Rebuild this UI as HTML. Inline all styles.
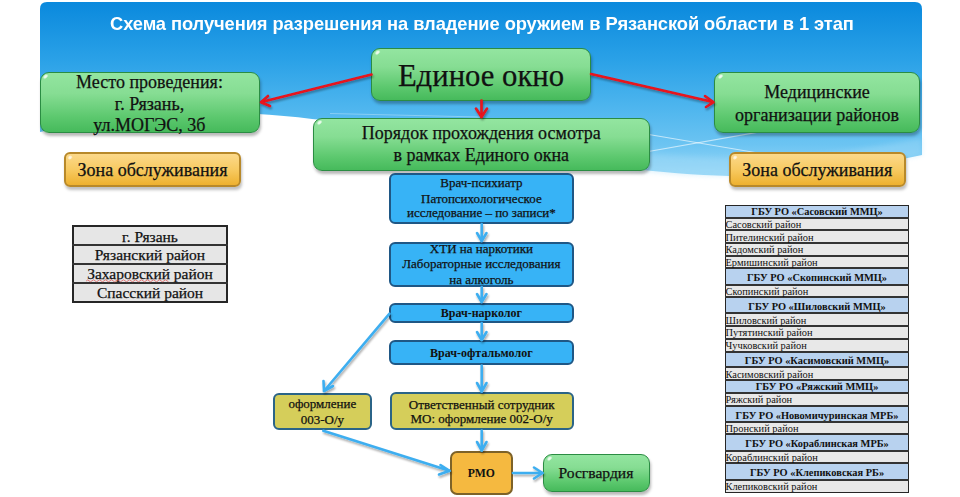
<!DOCTYPE html>
<html><head><meta charset="utf-8">
<style>
html,body{margin:0;padding:0;width:960px;height:497px;overflow:hidden;background:#fff;}
body{position:relative;}
.bg,.fg{position:absolute;left:0;top:0;}
.fg{z-index:5;}
.t{position:absolute;white-space:nowrap;z-index:10;-webkit-text-stroke:0.25px currentColor;}
.box{position:absolute;box-sizing:border-box;z-index:3;}
.green{background:linear-gradient(#93e5a0 0%,#86dd93 35%,#5cc86e 75%,#46ba5b 100%);border:1.8px solid #2b8c43;border-radius:9px;box-shadow:1px 3px 3px rgba(0,0,0,0.28);}
.green::before{content:"";position:absolute;left:2.5px;top:2px;width:5px;height:3px;border-radius:50%;background:rgba(255,255,255,0.85);transform:rotate(-40deg);filter:blur(0.5px);}
.yellow{background:linear-gradient(#fcd98a 0%,#f7ca62 50%,#eeb12f 100%);border:2px solid #b8892a;border-radius:6px;box-shadow:1px 3px 3px rgba(0,0,0,0.25);}
.yellow::before{content:"";position:absolute;left:2px;top:2px;width:4px;height:3px;border-radius:50%;background:rgba(255,255,255,0.8);transform:rotate(-40deg);filter:blur(0.5px);}
.blue{background:#37b3f6;border:2px solid #1f5785;border-radius:6px;}
.olive{background:#d5ce5a;border:2px solid #2b6487;border-radius:6px;}
.orange{background:#f5b940;border:2px solid #7d6228;border-radius:7px;}
.lt{position:absolute;box-sizing:border-box;background:#e6e6e6;border:2px solid #262626;z-index:3;}
.rt{position:absolute;box-sizing:border-box;border:1.8px solid #262626;z-index:4;}
.rr{position:absolute;z-index:3;}
.hl{position:absolute;background:#333;z-index:4;}
</style></head><body>
<svg class="bg" width="960" height="497" viewBox="0 0 960 497">
<defs>
<linearGradient id="bluegrad" x1="0" y1="2" x2="0" y2="176" gradientUnits="userSpaceOnUse">
<stop offset="0" stop-color="#0a89dd"/>
<stop offset="0.33" stop-color="#2aa1e7"/>
<stop offset="0.6" stop-color="#4db5ee"/>
<stop offset="0.82" stop-color="#6cc4f2"/>
<stop offset="1" stop-color="#9ad8f7"/>
</linearGradient>
<linearGradient id="lightband" x1="0" y1="0" x2="0" y2="1">
<stop offset="0" stop-color="#a8dcf8" stop-opacity="0"/>
<stop offset="1" stop-color="#a8dcf8" stop-opacity="0.9"/>
</linearGradient>
<filter id="soft" x="-5%" y="-50%" width="110%" height="200%"><feGaussianBlur stdDeviation="2.5"/></filter>
</defs>
<path d="M40,9 Q40,2 47,2 L915,2 Q922,2 922,9 L922,155 C860,168 790,178 729,176 C600,174 420,130 312,119 C240,110 150,108 40,132 Z" fill="url(#bluegrad)"/>
<path d="M922,138 C860,150 790,160 729,158 C640,156 560,146 470,134 L470,140 C560,160 640,176 729,176 C790,178 860,168 922,155 Z" fill="#a6ddf8" opacity="0.4" filter="url(#soft)"/>
<line x1="640" y1="133" x2="770" y2="155" stroke="#ffffff" stroke-opacity="0.6" stroke-width="1.2"/>
<line x1="640" y1="153" x2="770" y2="130" stroke="#ffffff" stroke-opacity="0.6" stroke-width="1.2"/>
<path d="M330,113.5 C380,114.5 430,116 480,117" stroke="#ffffff" stroke-opacity="0.3" stroke-width="1.2" fill="none"/>
</svg>
<div class="t" style="left:110px;width:760px;top:11.87px;font-size:19px;line-height:24.7px;font-family:'Liberation Sans', sans-serif;font-weight:bold;color:#fff;text-align:left;letter-spacing:-0.1px;-webkit-text-stroke:0;transform:scaleX(0.965);transform-origin:0 0;-webkit-text-stroke:0;">Схема получения разрешения на владение оружием в Рязанской области в 1 этап</div>
<div class="box green" style="left:39.5px;top:72px;width:220.5px;height:61px"></div>
<div class="box green" style="left:371px;top:47.5px;width:220px;height:53px"></div>
<div class="box green" style="left:714px;top:72px;width:206px;height:61px"></div>
<div class="box green" style="left:313px;top:117.5px;width:336.5px;height:53px"></div>
<div class="box yellow" style="left:64px;top:152.2px;width:177px;height:34.5px"></div>
<div class="box yellow" style="left:729px;top:152px;width:176.5px;height:34.5px"></div>
<div class="box blue" style="left:389.2px;top:172.7px;width:184.4px;height:51px"></div>
<div class="box blue" style="left:389.2px;top:241.9px;width:184.4px;height:44.8px"></div>
<div class="box blue" style="left:389.2px;top:302.5px;width:184.4px;height:20.3px"></div>
<div class="box blue" style="left:389.2px;top:340.3px;width:184.4px;height:24.7px"></div>
<div class="box olive" style="left:273px;top:392.5px;width:98.7px;height:37.5px"></div>
<div class="box olive" style="left:389.8px;top:392px;width:183.8px;height:38px"></div>
<div class="box orange" style="left:450px;top:451.3px;width:62.5px;height:43.7px"></div>
<div class="box green" style="left:543.3px;top:454.3px;width:106.7px;height:37.5px"></div>
<div class="t" style="left:40px;width:219px;top:70.78px;font-size:18px;line-height:23.4px;font-family:'Liberation Serif', serif;font-weight:normal;color:#111;text-align:center;letter-spacing:0px;">Место проведения:</div>
<div class="t" style="left:40px;width:219px;top:92.88px;font-size:18px;line-height:23.4px;font-family:'Liberation Serif', serif;font-weight:normal;color:#111;text-align:center;letter-spacing:0px;">г. Рязань,</div>
<div class="t" style="left:39.8px;width:219px;top:113.88px;font-size:18px;line-height:23.4px;font-family:'Liberation Serif', serif;font-weight:normal;color:#111;text-align:center;letter-spacing:0px;">ул.МОГЭС, 3б</div>
<div class="t" style="left:371px;width:220px;top:56.83px;font-size:30.7px;line-height:39.91px;font-family:'Liberation Serif', serif;font-weight:normal;color:#111;text-align:center;letter-spacing:0px;">Единое окно</div>
<div class="t" style="left:714px;width:206px;top:81.47px;font-size:18px;line-height:23.4px;font-family:'Liberation Serif', serif;font-weight:normal;color:#111;text-align:center;letter-spacing:0px;">Медицинские</div>
<div class="t" style="left:714px;width:206px;top:103.58px;font-size:18px;line-height:23.4px;font-family:'Liberation Serif', serif;font-weight:normal;color:#111;text-align:center;letter-spacing:0px;">организации районов</div>
<div class="t" style="left:313px;width:336.5px;top:122.38px;font-size:18px;line-height:23.4px;font-family:'Liberation Serif', serif;font-weight:normal;color:#111;text-align:center;letter-spacing:0px;">Порядок прохождения осмотра</div>
<div class="t" style="left:313px;width:336.5px;top:143.97px;font-size:18px;line-height:23.4px;font-family:'Liberation Serif', serif;font-weight:normal;color:#111;text-align:center;letter-spacing:0px;">в рамках Единого окна</div>
<div class="t" style="left:64px;width:177px;top:158.88px;font-size:18px;line-height:23.4px;font-family:'Liberation Serif', serif;font-weight:normal;color:#111;text-align:center;letter-spacing:0px;">Зона обслуживания</div>
<div class="t" style="left:729px;width:176.5px;top:158.88px;font-size:18px;line-height:23.4px;font-family:'Liberation Serif', serif;font-weight:normal;color:#111;text-align:center;letter-spacing:0px;">Зона обслуживания</div>
<div class="t" style="left:389.2px;width:184.4px;top:175.21px;font-size:13px;line-height:16.9px;font-family:'Liberation Serif', serif;font-weight:normal;color:#111;text-align:center;letter-spacing:0px;">Врач-психиатр</div>
<div class="t" style="left:389.2px;width:184.4px;top:190.51px;font-size:13px;line-height:16.9px;font-family:'Liberation Serif', serif;font-weight:normal;color:#111;text-align:center;letter-spacing:0px;">Патопсихологическое</div>
<div class="t" style="left:389.2px;width:184.4px;top:205.31px;font-size:13px;line-height:16.9px;font-family:'Liberation Serif', serif;font-weight:normal;color:#111;text-align:center;letter-spacing:0px;">исследование – по записи*</div>
<div class="t" style="left:389.2px;width:184.4px;top:241.11px;font-size:13px;line-height:16.9px;font-family:'Liberation Serif', serif;font-weight:normal;color:#111;text-align:center;letter-spacing:0px;">ХТИ на наркотики</div>
<div class="t" style="left:389.2px;width:184.4px;top:256.31px;font-size:13px;line-height:16.9px;font-family:'Liberation Serif', serif;font-weight:normal;color:#111;text-align:center;letter-spacing:0px;">Лабораторные исследования</div>
<div class="t" style="left:389.2px;width:184.4px;top:271.71px;font-size:13px;line-height:16.9px;font-family:'Liberation Serif', serif;font-weight:normal;color:#111;text-align:center;letter-spacing:0px;">на алкоголь</div>
<div class="t" style="left:389.2px;width:184.4px;top:306.00px;font-size:12px;line-height:15.6px;font-family:'Liberation Serif', serif;font-weight:bold;color:#111;text-align:center;letter-spacing:0px;-webkit-text-stroke:0;">Врач-нарколог</div>
<div class="t" style="left:389.2px;width:184.4px;top:346.00px;font-size:12px;line-height:15.6px;font-family:'Liberation Serif', serif;font-weight:bold;color:#111;text-align:center;letter-spacing:0px;-webkit-text-stroke:0;">Врач-офтальмолог</div>
<div class="t" style="left:273px;width:98.7px;top:396.31px;font-size:13px;line-height:16.9px;font-family:'Liberation Serif', serif;font-weight:normal;color:#111;text-align:center;letter-spacing:0px;">оформление</div>
<div class="t" style="left:273px;width:98.7px;top:412.01px;font-size:13px;line-height:16.9px;font-family:'Liberation Serif', serif;font-weight:normal;color:#111;text-align:center;letter-spacing:0px;">003-О/у</div>
<div class="t" style="left:389.8px;width:183.8px;top:396.71px;font-size:13px;line-height:16.9px;font-family:'Liberation Serif', serif;font-weight:normal;color:#111;text-align:center;letter-spacing:0px;">Ответственный сотрудник</div>
<div class="t" style="left:389.8px;width:183.8px;top:411.01px;font-size:13px;line-height:16.9px;font-family:'Liberation Serif', serif;font-weight:normal;color:#111;text-align:center;letter-spacing:0px;">МО: оформление 002-О/у</div>
<div class="t" style="left:450px;width:62.5px;top:465.90px;font-size:11.7px;line-height:15.21px;font-family:'Liberation Serif', serif;font-weight:bold;color:#111;text-align:center;letter-spacing:0px;-webkit-text-stroke:0;">РМО</div>
<div class="t" style="left:542.6px;width:106.7px;top:463.04px;font-size:15.6px;line-height:20.28px;font-family:'Liberation Serif', serif;font-weight:normal;color:#111;text-align:center;letter-spacing:0px;">Росгвардия</div>
<div class="lt" style="left:72px;top:225px;width:156px;height:78px"></div>
<div class="t" style="left:72px;width:156px;top:226.64px;font-size:15.5px;line-height:20.15px;font-family:'Liberation Serif', serif;font-weight:normal;color:#111;text-align:center;letter-spacing:0px;">г. Рязань</div>
<div class="hl" style="left:72px;top:244px;width:156px;height:2px"></div>
<div class="t" style="left:72px;width:156px;top:245.24px;font-size:15.5px;line-height:20.15px;font-family:'Liberation Serif', serif;font-weight:normal;color:#111;text-align:center;letter-spacing:0px;">Рязанский район</div>
<div class="hl" style="left:72px;top:263px;width:156px;height:2px"></div>
<div class="t" style="left:72px;width:156px;top:264.14px;font-size:15.5px;line-height:20.15px;font-family:'Liberation Serif', serif;font-weight:normal;color:#111;text-align:center;letter-spacing:0px;">Захаровский район</div>
<div class="hl" style="left:72px;top:282px;width:156px;height:2px"></div>
<div class="t" style="left:72px;width:156px;top:283.34px;font-size:15.5px;line-height:20.15px;font-family:'Liberation Serif', serif;font-weight:normal;color:#111;text-align:center;letter-spacing:0px;">Спасский район</div>
<svg style="position:absolute;left:86px;top:279px;z-index:11" width="86" height="4"><path d="M0,2.5 L1.5,0.8 L4.5,2.8 L7.5,0.8 L10.5,2.8 L13.5,0.8 L16.5,2.8 L19.5,0.8 L22.5,2.8 L25.5,0.8 L28.5,2.8 L31.5,0.8 L34.5,2.8 L37.5,0.8 L40.5,2.8 L43.5,0.8 L46.5,2.8 L49.5,0.8 L52.5,2.8 L55.5,0.8 L58.5,2.8 L61.5,0.8 L64.5,2.8 L67.5,0.8 L70.5,2.8 L73.5,0.8 L76.5,2.8 L79.5,0.8 L82.5,2.8" stroke="#e04040" stroke-width="0.8" fill="none" opacity="0.8"/></svg>
<div class="rt" style="left:725.3px;top:205px;width:183.5px;height:287.6px"></div>
<div class="rr" style="left:725.3px;top:205px;width:183.5px;height:12.50px;background:#b8d2ef"></div>
<div class="rr" style="left:725.3px;top:217.5px;width:183.5px;height:12.90px;background:#e8e8e8"></div>
<div class="rr" style="left:725.3px;top:230.4px;width:183.5px;height:12.70px;background:#e8e8e8"></div>
<div class="rr" style="left:725.3px;top:243.1px;width:183.5px;height:12.70px;background:#e8e8e8"></div>
<div class="rr" style="left:725.3px;top:255.8px;width:183.5px;height:12.50px;background:#e8e8e8"></div>
<div class="rr" style="left:725.3px;top:268.3px;width:183.5px;height:16.40px;background:#b8d2ef"></div>
<div class="rr" style="left:725.3px;top:284.7px;width:183.5px;height:12.60px;background:#e8e8e8"></div>
<div class="rr" style="left:725.3px;top:297.3px;width:183.5px;height:15.90px;background:#b8d2ef"></div>
<div class="rr" style="left:725.3px;top:313.2px;width:183.5px;height:12.80px;background:#e8e8e8"></div>
<div class="rr" style="left:725.3px;top:326px;width:183.5px;height:12.60px;background:#e8e8e8"></div>
<div class="rr" style="left:725.3px;top:338.6px;width:183.5px;height:13.30px;background:#e8e8e8"></div>
<div class="rr" style="left:725.3px;top:351.9px;width:183.5px;height:15.50px;background:#b8d2ef"></div>
<div class="rr" style="left:725.3px;top:367.4px;width:183.5px;height:12.70px;background:#e8e8e8"></div>
<div class="rr" style="left:725.3px;top:380.1px;width:183.5px;height:12.90px;background:#b8d2ef"></div>
<div class="rr" style="left:725.3px;top:393px;width:183.5px;height:12.80px;background:#e8e8e8"></div>
<div class="rr" style="left:725.3px;top:405.8px;width:183.5px;height:16.60px;background:#b8d2ef"></div>
<div class="rr" style="left:725.3px;top:422.4px;width:183.5px;height:12.00px;background:#e8e8e8"></div>
<div class="rr" style="left:725.3px;top:434.4px;width:183.5px;height:16.80px;background:#b8d2ef"></div>
<div class="rr" style="left:725.3px;top:451.2px;width:183.5px;height:12.10px;background:#e8e8e8"></div>
<div class="rr" style="left:725.3px;top:463.3px;width:183.5px;height:16.60px;background:#b8d2ef"></div>
<div class="rr" style="left:725.3px;top:479.9px;width:183.5px;height:12.70px;background:#e8e8e8"></div>
<div class="hl" style="left:725.3px;top:217px;width:183.5px;height:2px"></div>
<div class="hl" style="left:725.3px;top:229px;width:183.5px;height:2px"></div>
<div class="hl" style="left:725.3px;top:242px;width:183.5px;height:2px"></div>
<div class="hl" style="left:725.3px;top:255px;width:183.5px;height:2px"></div>
<div class="hl" style="left:725.3px;top:267px;width:183.5px;height:2px"></div>
<div class="hl" style="left:725.3px;top:284px;width:183.5px;height:2px"></div>
<div class="hl" style="left:725.3px;top:296px;width:183.5px;height:2px"></div>
<div class="hl" style="left:725.3px;top:312px;width:183.5px;height:2px"></div>
<div class="hl" style="left:725.3px;top:325px;width:183.5px;height:2px"></div>
<div class="hl" style="left:725.3px;top:338px;width:183.5px;height:2px"></div>
<div class="hl" style="left:725.3px;top:351px;width:183.5px;height:2px"></div>
<div class="hl" style="left:725.3px;top:366px;width:183.5px;height:2px"></div>
<div class="hl" style="left:725.3px;top:379px;width:183.5px;height:2px"></div>
<div class="hl" style="left:725.3px;top:392px;width:183.5px;height:2px"></div>
<div class="hl" style="left:725.3px;top:405px;width:183.5px;height:2px"></div>
<div class="hl" style="left:725.3px;top:421px;width:183.5px;height:2px"></div>
<div class="hl" style="left:725.3px;top:433px;width:183.5px;height:2px"></div>
<div class="hl" style="left:725.3px;top:450px;width:183.5px;height:2px"></div>
<div class="hl" style="left:725.3px;top:462px;width:183.5px;height:2px"></div>
<div class="hl" style="left:725.3px;top:479px;width:183.5px;height:2px"></div>
<div class="t" style="left:725.3px;width:183.5px;top:205.13px;font-size:10.4px;line-height:13.52px;font-family:'Liberation Serif', serif;font-weight:bold;color:#111;text-align:center;letter-spacing:0px;-webkit-text-stroke:0;">ГБУ РО «Сасовский ММЦ»</div>
<div class="t" style="left:725.5px;width:183.5px;top:217.93px;font-size:10.4px;line-height:13.52px;font-family:'Liberation Serif', serif;font-weight:normal;color:#111;text-align:left;letter-spacing:0px;-webkit-text-stroke:0;">Сасовский район</div>
<div class="t" style="left:725.5px;width:183.5px;top:230.73px;font-size:10.4px;line-height:13.52px;font-family:'Liberation Serif', serif;font-weight:normal;color:#111;text-align:left;letter-spacing:0px;-webkit-text-stroke:0;">Пителинский район</div>
<div class="t" style="left:725.5px;width:183.5px;top:243.43px;font-size:10.4px;line-height:13.52px;font-family:'Liberation Serif', serif;font-weight:normal;color:#111;text-align:left;letter-spacing:0px;-webkit-text-stroke:0;">Кадомский район</div>
<div class="t" style="left:725.5px;width:183.5px;top:256.03px;font-size:10.4px;line-height:13.52px;font-family:'Liberation Serif', serif;font-weight:normal;color:#111;text-align:left;letter-spacing:0px;-webkit-text-stroke:0;">Ермишинский район</div>
<div class="t" style="left:725.3px;width:183.5px;top:271.18px;font-size:10.4px;line-height:13.52px;font-family:'Liberation Serif', serif;font-weight:bold;color:#111;text-align:center;letter-spacing:0px;-webkit-text-stroke:0;">ГБУ РО «Скопинский ММЦ»</div>
<div class="t" style="left:725.5px;width:183.5px;top:284.98px;font-size:10.4px;line-height:13.52px;font-family:'Liberation Serif', serif;font-weight:normal;color:#111;text-align:left;letter-spacing:0px;-webkit-text-stroke:0;">Скопинский район</div>
<div class="t" style="left:725.3px;width:183.5px;top:299.93px;font-size:10.4px;line-height:13.52px;font-family:'Liberation Serif', serif;font-weight:bold;color:#111;text-align:center;letter-spacing:0px;-webkit-text-stroke:0;">ГБУ РО «Шиловский ММЦ»</div>
<div class="t" style="left:725.5px;width:183.5px;top:313.58px;font-size:10.4px;line-height:13.52px;font-family:'Liberation Serif', serif;font-weight:normal;color:#111;text-align:left;letter-spacing:0px;-webkit-text-stroke:0;">Шиловский район</div>
<div class="t" style="left:725.5px;width:183.5px;top:326.28px;font-size:10.4px;line-height:13.52px;font-family:'Liberation Serif', serif;font-weight:normal;color:#111;text-align:left;letter-spacing:0px;-webkit-text-stroke:0;">Путятинский район</div>
<div class="t" style="left:725.5px;width:183.5px;top:339.23px;font-size:10.4px;line-height:13.52px;font-family:'Liberation Serif', serif;font-weight:normal;color:#111;text-align:left;letter-spacing:0px;-webkit-text-stroke:0;">Чучковский район</div>
<div class="t" style="left:725.3px;width:183.5px;top:354.33px;font-size:10.4px;line-height:13.52px;font-family:'Liberation Serif', serif;font-weight:bold;color:#111;text-align:center;letter-spacing:0px;-webkit-text-stroke:0;">ГБУ РО «Касимовский ММЦ»</div>
<div class="t" style="left:725.5px;width:183.5px;top:367.73px;font-size:10.4px;line-height:13.52px;font-family:'Liberation Serif', serif;font-weight:normal;color:#111;text-align:left;letter-spacing:0px;-webkit-text-stroke:0;">Касимовский район</div>
<div class="t" style="left:725.3px;width:183.5px;top:380.43px;font-size:10.4px;line-height:13.52px;font-family:'Liberation Serif', serif;font-weight:bold;color:#111;text-align:center;letter-spacing:0px;-webkit-text-stroke:0;">ГБУ РО «Ряжский ММЦ»</div>
<div class="t" style="left:725.5px;width:183.5px;top:393.38px;font-size:10.4px;line-height:13.52px;font-family:'Liberation Serif', serif;font-weight:normal;color:#111;text-align:left;letter-spacing:0px;-webkit-text-stroke:0;">Ряжский район</div>
<div class="t" style="left:725.3px;width:183.5px;top:408.78px;font-size:10.4px;line-height:13.52px;font-family:'Liberation Serif', serif;font-weight:bold;color:#111;text-align:center;letter-spacing:0px;-webkit-text-stroke:0;">ГБУ РО «Новомичуринская МРБ»</div>
<div class="t" style="left:725.5px;width:183.5px;top:422.38px;font-size:10.4px;line-height:13.52px;font-family:'Liberation Serif', serif;font-weight:normal;color:#111;text-align:left;letter-spacing:0px;-webkit-text-stroke:0;">Пронский район</div>
<div class="t" style="left:725.3px;width:183.5px;top:437.48px;font-size:10.4px;line-height:13.52px;font-family:'Liberation Serif', serif;font-weight:bold;color:#111;text-align:center;letter-spacing:0px;-webkit-text-stroke:0;">ГБУ РО «Кораблинская МРБ»</div>
<div class="t" style="left:725.5px;width:183.5px;top:451.23px;font-size:10.4px;line-height:13.52px;font-family:'Liberation Serif', serif;font-weight:normal;color:#111;text-align:left;letter-spacing:0px;-webkit-text-stroke:0;">Кораблинский район</div>
<div class="t" style="left:725.3px;width:183.5px;top:466.28px;font-size:10.4px;line-height:13.52px;font-family:'Liberation Serif', serif;font-weight:bold;color:#111;text-align:center;letter-spacing:0px;-webkit-text-stroke:0;">ГБУ РО «Клепиковская РБ»</div>
<div class="t" style="left:725.5px;width:183.5px;top:480.23px;font-size:10.4px;line-height:13.52px;font-family:'Liberation Serif', serif;font-weight:normal;color:#111;text-align:left;letter-spacing:0px;-webkit-text-stroke:0;">Клепиковский район</div>
<svg class="fg" width="960" height="497" viewBox="0 0 960 497">
<defs>
<filter id="sh" x="-20%" y="-20%" width="140%" height="140%"><feGaussianBlur in="SourceAlpha" stdDeviation="1"/><feOffset dx="1" dy="2"/><feComponentTransfer><feFuncA type="linear" slope="0.35"/></feComponentTransfer><feMerge><feMergeNode/><feMergeNode in="SourceGraphic"/></feMerge></filter>
</defs>
<g stroke="#e8121c" stroke-width="2.6" fill="none" stroke-linecap="round" stroke-linejoin="round" filter="url(#sh)">
<line x1="371.5" y1="74.6" x2="261.5" y2="102"/>
<polyline points="268,96 261,102.3 270,106"/>
<line x1="591" y1="74" x2="713" y2="102"/>
<polyline points="705,96 713.5,102.2 706,107"/>
<line x1="481.5" y1="100.5" x2="481.5" y2="117"/>
<polyline points="476,108.5 481.5,117 487,108.5"/>
</g>
<g stroke="#3eaef0" stroke-width="2.6" fill="none" stroke-linecap="round" stroke-linejoin="round" filter="url(#sh)">
<line x1="481.7" y1="224" x2="481.7" y2="241"/>
<polyline points="477,233 481.7,241 486.5,233"/>
<line x1="481.7" y1="287" x2="481.7" y2="302"/>
<polyline points="477,294 481.7,302 486.5,294"/>
<line x1="481.7" y1="323" x2="481.7" y2="340"/>
<polyline points="477,332 481.7,340 486.5,332"/>
<line x1="481.7" y1="365.5" x2="481.7" y2="391.5"/>
<polyline points="477,383 481.7,391.5 486.5,383"/>
<line x1="481.7" y1="430.5" x2="481.7" y2="450.5"/>
<polyline points="477,442 481.7,450.5 486.5,442"/>
<line x1="389.5" y1="313.7" x2="324" y2="391"/>
<polyline points="323.5,381 324,391 333,386"/>
<line x1="323.3" y1="430.8" x2="449.5" y2="470.8"/>
<polyline points="440.5,465 449.5,470.8 439,474.5"/>
<line x1="513" y1="473" x2="542.5" y2="473"/>
<polyline points="534,467.5 542.5,473 534,478.5"/>
</g>
</svg>

</body></html>
